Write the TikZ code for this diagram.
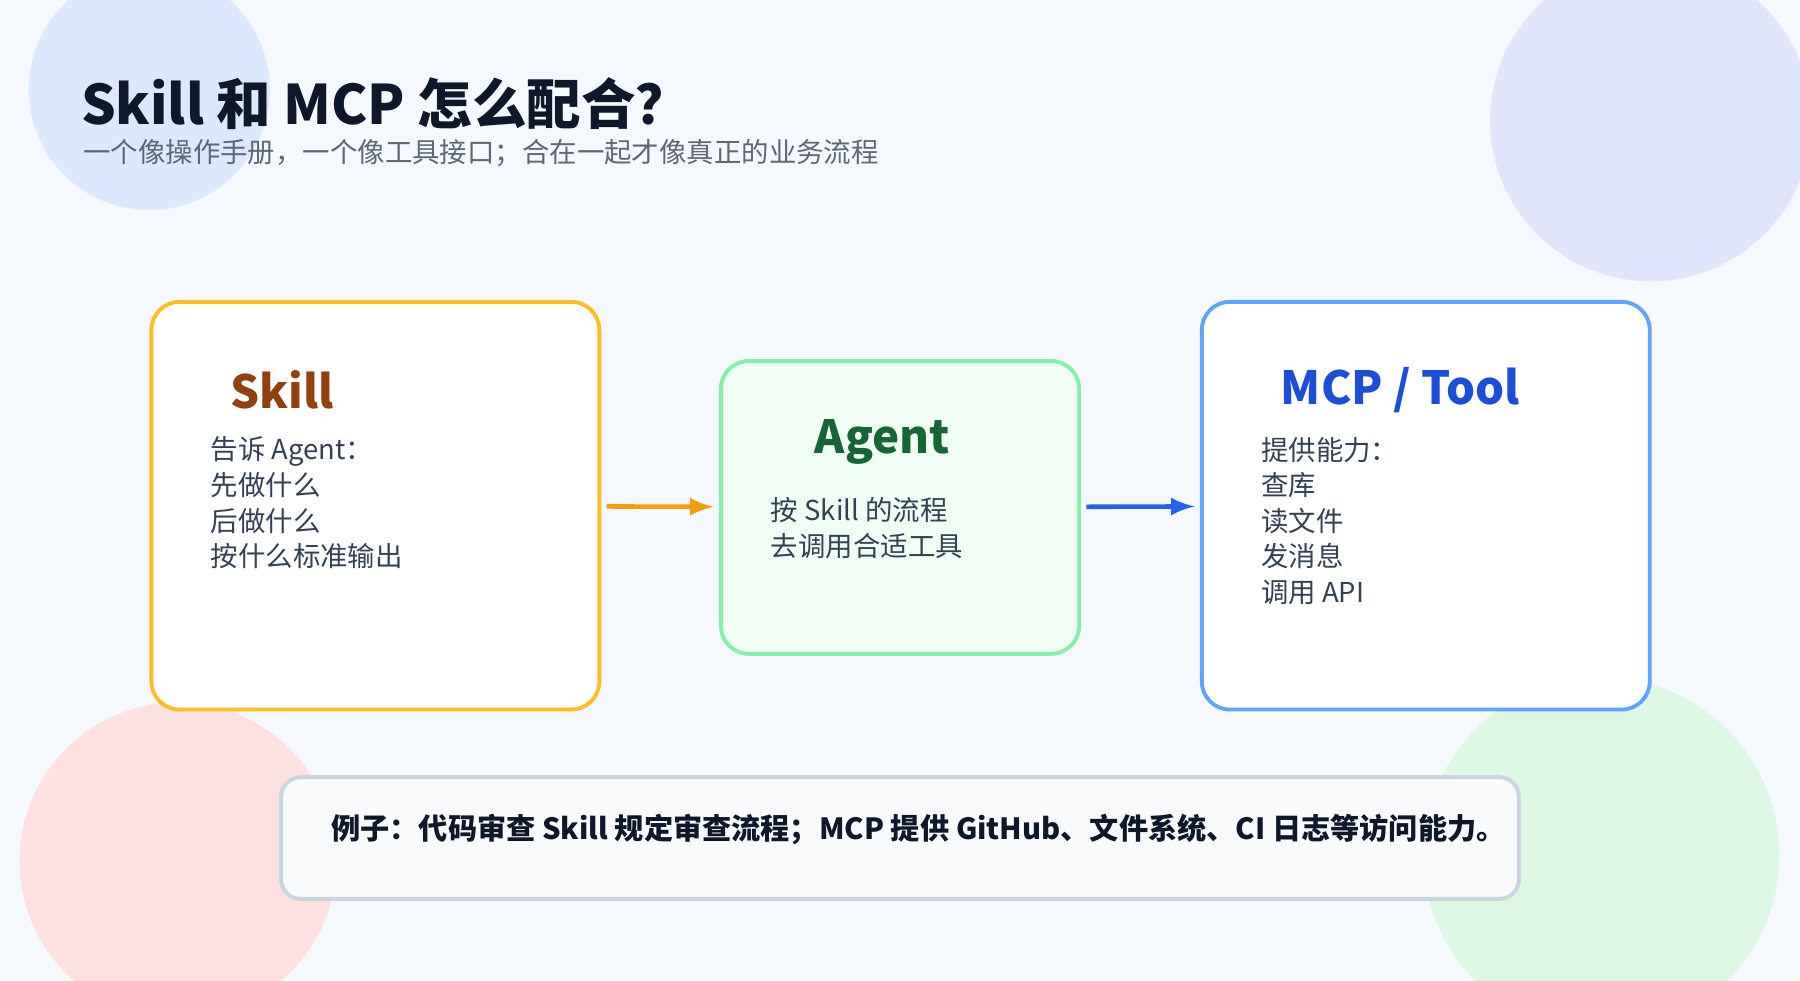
\documentclass[tikz,border=0pt]{standalone}
\usepackage{fontspec}
\setmainfont{Noto Sans CJK SC}
\usetikzlibrary{positioning}
\definecolor{bgpage}{HTML}{F5F8FC}
\definecolor{blobblue}{HTML}{DBE8FD}
\definecolor{bloblilac}{HTML}{E0E5FC}
\definecolor{blobpink}{HTML}{FDE0E0}
\definecolor{blobgreen}{HTML}{DCF7E4}
\definecolor{skillline}{HTML}{FBBF24}
\definecolor{skilltext}{HTML}{92400E}
\definecolor{agentline}{HTML}{86EFAC}
\definecolor{agentfill}{HTML}{F0FDF4}
\definecolor{agenttext}{HTML}{166534}
\definecolor{mcpline}{HTML}{60A5FA}
\definecolor{mcptext}{HTML}{1D4ED8}
\definecolor{arroworange}{HTML}{F59E0B}
\definecolor{arrowblue}{HTML}{2563EB}
\definecolor{bodytext}{HTML}{334155}
\definecolor{titletext}{HTML}{0F172A}
\definecolor{noteline}{HTML}{CBD5E1}
\definecolor{notefill}{HTML}{F8FAFC}
\tikzset{
  card/.style={draw, line width=1.1pt, rounded corners=0.28cm},
  head/.style={anchor=west, font=\fontsize{13}{15}\selectfont\bfseries},
  body/.style={anchor=north west, align=left, text=bodytext,
    inner sep=0pt, font=\fontsize{7.8}{10.1}\selectfont},
  flow/.style={line width=1.3pt, -latex, shorten >=1.5pt, shorten <=1.5pt}
}
\begin{document}
\begin{tikzpicture}[x={(0.01148cm,0)}, y={(0,-0.01148cm)}]
\useasboundingbox (0,0) rectangle (1568,854);
\fill[bgpage] (0,0) rectangle (1568,854);
\begin{scope}
\clip (0,0) rectangle (1568,854);
\fill[blobblue] (130,78) circle (105);
\fill[bloblilac] (1438,105) circle (140);
\fill[blobpink] (155,750) circle (138);
\fill[blobgreen] (1395,745) circle (155);
\end{scope}

% title
\node[anchor=west, inner sep=0pt, text=titletext, font=\fontsize{15.5}{18}\selectfont\bfseries]
  (title) at (70,90) {Skill 和 MCP 怎么配合？};
\node[anchor=west, inner sep=0pt, text=bodytext!80, font=\fontsize{7.8}{9}\selectfont]
  (subtitle) at (72,133) {一个像操作手册，一个像工具接口；合在一起才像真正的业务流程};

% cards
\node[card, draw=skillline, fill=white, minimum width=4.477cm, minimum height=4.075cm]
  (skill) at (327,440.5) {};
\node[card, draw=agentline, fill=agentfill, minimum width=3.582cm, minimum height=2.927cm]
  (agent) at (784,442) {};
\node[card, draw=mcpline, fill=white, minimum width=4.477cm, minimum height=4.075cm]
  (mcp) at (1242,440.5) {};

\node[head, text=skilltext] (skillhead) at (190,340) {Skill};
\node[body] (skillbody) at (183,380) {告诉 Agent：\\先做什么\\后做什么\\按什么标准输出};

\node[head, text=agenttext] (agenthead) at (699,385) {Agent};
\node[body] (agentbody) at (671,433) {按 Skill 的流程\\去调用合适工具};

\node[head, text=mcptext] (mcphead) at (1105,340) {MCP / Tool};
\node[body] (mcpbody) at (1098,380) {提供能力：\\查库\\读文件\\发消息\\调用 API};

% connectors
\draw[flow, arroworange] (skill) -- (agent);
\draw[flow, arrowblue] (agent) -- (mcp);

% example
\node[card, draw=noteline, fill=notefill, rounded corners=0.2cm,
  minimum width=12.375cm, minimum height=1.217cm] (note) at (784,730) {};
\node[anchor=west, inner sep=0pt, text=titletext, font=\fontsize{8.3}{10}\selectfont\bfseries]
  (notetext) at (288,723) {例子：代码审查 Skill 规定审查流程；MCP 提供 GitHub、文件系统、CI 日志等访问能力。};
\end{tikzpicture}
\end{document}
